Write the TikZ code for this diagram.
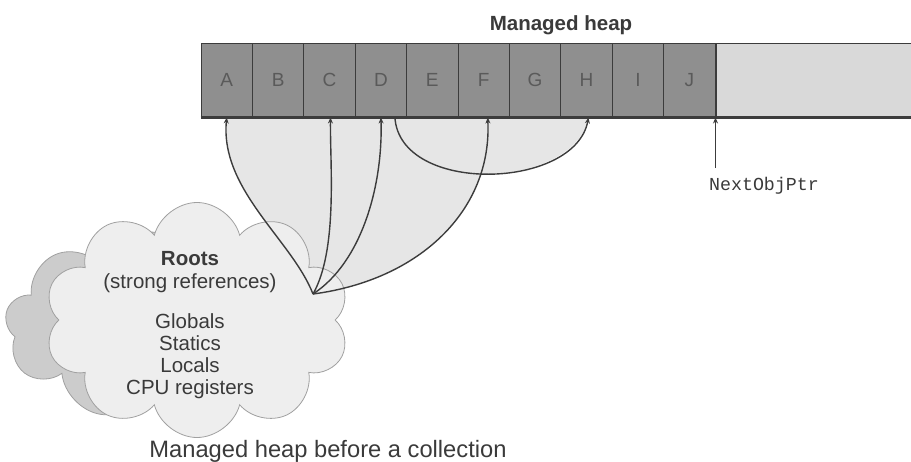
\documentclass[tikz,border=0pt]{standalone}
\usepackage{fontspec}
\setmainfont{Liberation Sans}
\setmonofont{Liberation Mono}
\usepackage{tikz}
\usetikzlibrary{arrows.meta,shapes.symbols,backgrounds}
\definecolor{cellgray}{HTML}{8F8F8F}
\definecolor{freegray}{HTML}{D9D9D9}
\definecolor{edgegray}{HTML}{3C3C3C}
\definecolor{lettergray}{HTML}{5A5A5A}
\definecolor{shadegray}{HTML}{E6E6E6}
\definecolor{cloudback}{HTML}{CCCCCC}
\definecolor{cloudfront}{HTML}{EEEEEE}
\definecolor{cloudline}{HTML}{A0A0A0}
\definecolor{txtgray}{HTML}{3A3A3A}
\tikzset{
  heapcell/.style={
    rectangle, draw=edgegray, fill=cellgray, line width=1pt,
    minimum width=51.4pt, minimum height=74pt,
    inner sep=0pt, text=lettergray,
    font=\fontsize{19}{21}\selectfont
  },
  freebox/.style={
    rectangle, draw=edgegray, fill=freegray, line width=1pt,
    minimum width=200pt, minimum height=74pt, inner sep=0pt
  },
  refarrow/.style={
    -{Stealth[length=6pt,width=5pt]}, line width=1.4pt, color=#1
  },
  refarrow/.default=edgegray,
  cloudbox/.style={
    cloud, cloud puffs=#1, cloud ignores aspect, draw=cloudline,
    line width=0.8pt, inner sep=0pt
  },
  cloudbox/.default=10,
  labelnode/.style={
    font=\fontsize{20.5}{22}\selectfont, text=txtgray, anchor=base,
    inner sep=0pt
  },
}

\begin{document}
\begin{tikzpicture}[x=1pt, y=-1pt]
  \useasboundingbox (0,0) rectangle (911,461);
  \clip (0,0) rectangle (911,461);

  % heap cells
  \foreach \lbl [count=\i] in {A,B,C,D,E,F,G,H,I,J}
    \node[heapcell] (cell\lbl) at ({201+51.4*(\i-0.5)}, 80) {\lbl};
  \node[freebox, anchor=west] (free) at (cellJ.east) {};
  \draw[edgegray, line width=2.2pt] (cellA.south west) -- (free.south east);
  \node[labelnode, font=\fontsize{20.5}{22}\selectfont\bfseries] (title)
    at (561,30) {Managed heap};

  % roots cloud
  \node[cloudbox=9, fill=cloudback, minimum width=290pt, minimum height=188pt]
    (cloudb) at (150,326) {};
  \node[cloudbox=10, fill=cloudfront, minimum width=305pt, minimum height=235pt]
    (cloudf) at (197,320) {};
  \node[labelnode, font=\fontsize{20.5}{22}\selectfont\bfseries] (roots)
    at (190,265) {Roots};
  \node[labelnode] (strong) at (190,288) {(strong references)};
  \foreach \kind [count=\k] in {Globals,Statics,Locals,CPU registers}
    \node[labelnode] (kind\k) at (190,{306+22*\k}) {\kind};
  \coordinate (root) at (313,294);

  % shaded reference area
  \begin{scope}[on background layer]
    \fill[shadegray] (root) .. controls (292,240) and (220,190) .. (cellA.south)
      -- ([xshift=4pt]cellF.south) .. controls (492,210) and (420,280) .. (root);
    \fill[shadegray] ([xshift=14pt]cellD.south) .. controls (400,195) and (575,190)
      .. ([xshift=2pt]cellH.south) -- cycle;
  \end{scope}

  % references from the roots
  \draw[refarrow] (root) .. controls (292,240) and (220,190) .. (cellA.south);
  \draw[refarrow] (root) .. controls (338,250) and (330,165) .. ([xshift=1pt]cellC.south);
  \draw[refarrow] (root) .. controls (362,262) and (383,185) .. (cellD.south);
  \draw[refarrow] (root) .. controls (420,280) and (492,210) .. ([xshift=4pt]cellF.south);
  \draw[refarrow] ([xshift=14pt]cellD.south) .. controls (400,195) and (575,190)
    .. ([xshift=2pt]cellH.south);

  % next object pointer
  \node[labelnode, font=\fontsize{18.3}{20}\selectfont\ttfamily] (nextlbl)
    at (764,190) {NextObjPtr};
  \coordinate (ptrfoot) at (cellJ.south east |- 0,168);
  \draw[refarrow] (ptrfoot) -- (cellJ.south east);

  \node[labelnode, font=\fontsize{23.7}{25}\selectfont] (caption) at (328,457)
    {Managed heap before a collection};
\end{tikzpicture}
\end{document}
